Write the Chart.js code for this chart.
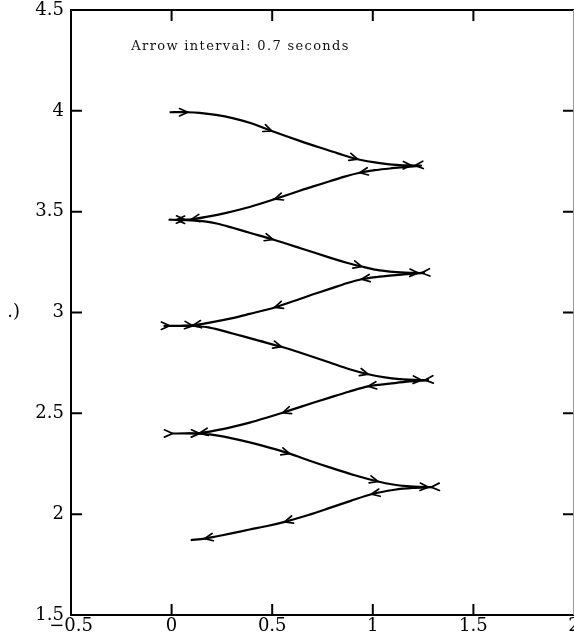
<!DOCTYPE html>
<html>
<head>
<meta charset="utf-8">
<script src="https://cdn.jsdelivr.net/npm/chart.js@4.4.1/dist/chart.umd.min.js"></script>
<style>
  html, body { margin: 0; padding: 0; background: #fff; overflow: hidden; }
  canvas { display: block; }
</style>
</head>
<body>
<canvas id="trajChart" width="574" height="641"></canvas>
<script>
// trajectory (data units)
const pathX = [
  -0.010, 0.080, 0.139, 0.220, 0.303, 0.400, 0.498, 0.637, 0.736, 0.830, 0.925, 1.035, 1.134, 1.209, 1.239,
  1.159, 1.085, 1.010, 0.935, 0.860, 0.786, 0.700, 0.637, 0.512, 0.388, 0.272, 0.173, 0.098, 0.040, -0.010,
  0.100, 0.164, 0.230, 0.303, 0.400, 0.504, 0.637, 0.786, 0.870, 0.945, 1.020, 1.085, 1.160, 1.225, 1.254,
  1.184, 1.100, 1.020, 0.944, 0.870, 0.786, 0.700, 0.637, 0.512, 0.388, 0.303, 0.189, 0.104, 0.040, -0.035,
  0.104, 0.189, 0.303, 0.420, 0.546, 0.637, 0.786, 0.880, 0.977, 1.060, 1.134, 1.242, 1.274,
  1.184, 1.109, 0.977, 0.880, 0.786, 0.637, 0.552, 0.471, 0.388, 0.303, 0.214, 0.139, 0.070, 0.005,
  0.139, 0.239, 0.388, 0.490, 0.587, 0.690, 0.786, 0.910, 1.026, 1.100, 1.169, 1.276, 1.294,
  1.199, 1.109, 0.993, 0.890, 0.786, 0.680, 0.562, 0.470, 0.388, 0.303, 0.214, 0.164, 0.095
];
const pathY = [
  3.993, 3.993, 3.990, 3.980, 3.964, 3.937, 3.900, 3.851, 3.818, 3.788, 3.760, 3.741, 3.731, 3.729, 3.728,
  3.722, 3.714, 3.706, 3.693, 3.674, 3.651, 3.624, 3.604, 3.562, 3.523, 3.494, 3.474, 3.462, 3.460, 3.460,
  3.457, 3.452, 3.440, 3.420, 3.392, 3.362, 3.320, 3.272, 3.247, 3.228, 3.211, 3.203, 3.198, 3.196, 3.196,
  3.191, 3.184, 3.176, 3.165, 3.145, 3.117, 3.089, 3.067, 3.025, 2.993, 2.972, 2.950, 2.937, 2.934, 2.934,
  2.933, 2.925, 2.896, 2.864, 2.830, 2.802, 2.752, 2.720, 2.694, 2.678, 2.670, 2.665, 2.665,
  2.658, 2.650, 2.634, 2.607, 2.578, 2.531, 2.503, 2.478, 2.454, 2.433, 2.414, 2.402, 2.400, 2.400,
  2.399, 2.388, 2.356, 2.329, 2.300, 2.264, 2.232, 2.193, 2.162, 2.147, 2.139, 2.134, 2.134,
  2.130, 2.121, 2.099, 2.066, 2.031, 1.996, 1.962, 1.940, 1.924, 1.906, 1.888, 1.879, 1.871
];

// arrowheads, one every 0.7 s: tip position and heading (+1 right, -1 left)
const arrowX = [
  0.080, 0.498, 0.925, 1.192, 1.209, 0.935, 0.512, 0.098, 0.024,
  0.065, 0.504, 0.945, 1.225, 1.242, 0.944, 0.512, 0.106,
  -0.010, 0.106, 0.546, 0.977, 1.242, 1.259, 0.977, 0.552, 0.139,
  0.005, 0.139, 0.587, 1.026, 1.276, 1.290, 0.993, 0.562, 0.164
];
const arrowY = [
  3.993, 3.900, 3.760, 3.729, 3.729, 3.693, 3.562, 3.462, 3.460,
  3.460, 3.362, 3.228, 3.196, 3.196, 3.165, 3.025, 2.936,
  2.934, 2.934, 2.830, 2.694, 2.665, 2.665, 2.634, 2.503, 2.402,
  2.400, 2.400, 2.300, 2.162, 2.134, 2.134, 2.099, 1.962, 1.879
];
const arrowDir = [
  1, 1, 1, 1, -1, -1, -1, -1, -1,
  1, 1, 1, 1, -1, -1, -1, -1,
  1, 1, 1, 1, 1, -1, -1, -1, -1,
  1, 1, 1, 1, 1, -1, -1, -1, -1
];

const xTicks = [-0.5, 0, 0.5, 1, 1.5, 2];
const xTickLabels = ['\u22120.5', '0', '0.5', '1', '1.5', '2'];
const yTicks = [1.5, 2, 2.5, 3, 3.5, 4, 4.5];
const yTickLabels = ['1.5', '2', '2.5', '3', '3.5', '4', '4.5'];

const noteText = 'Arrow interval: 0.7 seconds';
const yTitle = '.)';

const points = pathX.map((x, i) => ({ x: x, y: pathY[i] }));
const tickFont = { family: '"DejaVu Serif", serif', size: 18 };

// arrowheads along the path, open "V" like the original
const arrowheads = {
  id: 'arrowheads',
  afterDatasetsDraw(chart) {
    const { ctx, scales: { x, y } } = chart;
    const px = pathX.map(v => x.getPixelForValue(v));
    const py = pathY.map(v => y.getPixelForValue(v));
    ctx.save();
    ctx.strokeStyle = '#000';
    ctx.lineWidth = 1.7;
    ctx.lineCap = 'round';
    ctx.lineJoin = 'miter';
    arrowX.forEach((ax, k) => {
      const tx = x.getPixelForValue(ax);
      const ty = y.getPixelForValue(arrowY[k]);
      // local heading: nearest path segment that runs the same way
      let best = Infinity, ang = arrowDir[k] > 0 ? 0 : Math.PI;
      for (let i = 0; i < px.length - 1; i++) {
        const dx = px[i + 1] - px[i], dy = py[i + 1] - py[i];
        if (Math.sign(dx) !== arrowDir[k]) continue;
        const len2 = dx * dx + dy * dy;
        let t = ((tx - px[i]) * dx + (ty - py[i]) * dy) / len2;
        t = Math.max(0, Math.min(1, t));
        const d = Math.hypot(px[i] + t * dx - tx, py[i] + t * dy - ty);
        if (d < best) { best = d; ang = Math.atan2(dy, dx); }
      }
      const L = 9, spread = 0.42;
      ctx.beginPath();
      ctx.moveTo(tx - L * Math.cos(ang - spread), ty - L * Math.sin(ang - spread));
      ctx.lineTo(tx, ty);
      ctx.lineTo(tx - L * Math.cos(ang + spread), ty - L * Math.sin(ang + spread));
      ctx.stroke();
    });
    ctx.restore();
  }
};

// boxed axes with inward ticks, note and clipped y title
const frame = {
  id: 'frame',
  afterDraw(chart) {
    const { ctx, chartArea: a, scales: { x, y } } = chart;
    const tl = 11;
    ctx.save();
    ctx.strokeStyle = '#000';
    ctx.lineWidth = 2;
    ctx.beginPath();
    ctx.moveTo(a.left, a.top); ctx.lineTo(a.right + 1, a.top);
    ctx.moveTo(a.left, a.top - 1); ctx.lineTo(a.left, a.bottom + 1);
    ctx.moveTo(a.left, a.bottom); ctx.lineTo(a.right + 1, a.bottom);
    xTicks.forEach(v => {
      const p = x.getPixelForValue(v);
      ctx.moveTo(p, a.bottom); ctx.lineTo(p, a.bottom - tl);
      ctx.moveTo(p, a.top); ctx.lineTo(p, a.top + tl);
    });
    yTicks.forEach(v => {
      const p = y.getPixelForValue(v);
      ctx.moveTo(a.left, p); ctx.lineTo(a.left + tl, p);
      ctx.moveTo(a.right, p); ctx.lineTo(a.right - tl, p);
    });
    ctx.stroke();
    // right spine sits on the page edge
    ctx.strokeStyle = '#999';
    ctx.lineWidth = 1;
    ctx.beginPath();
    ctx.moveTo(a.right - 0.5, a.top); ctx.lineTo(a.right - 0.5, a.bottom);
    ctx.stroke();

    // note
    ctx.fillStyle = '#111';
    ctx.font = '13px "DejaVu Serif", serif';
    ctx.textBaseline = 'alphabetic';
    const w0 = ctx.measureText(noteText).width;
    const target = 217;
    if ('letterSpacing' in ctx) {
      ctx.letterSpacing = ((target - w0) / (noteText.length - 1)).toFixed(2) + 'px';
    }
    ctx.fillText(noteText, x.getPixelForValue(-0.2), y.getPixelForValue(4.3));
    if ('letterSpacing' in ctx) ctx.letterSpacing = '0px';

    // y title, mostly cut off on the left
    ctx.fillStyle = '#000';
    ctx.font = '18px "DejaVu Serif", serif';
    ctx.textAlign = 'right';
    ctx.textBaseline = 'middle';
    ctx.fillText(yTitle, 20, y.getPixelForValue(3));
    ctx.restore();
  }
};

new Chart(document.getElementById('trajChart'), {
  type: 'scatter',
  data: {
    datasets: [{
      data: points,
      showLine: true,
      borderColor: '#000',
      borderWidth: 2.2,
      pointRadius: 0,
      tension: 0.3,
      fill: false
    }]
  },
  options: {
    responsive: false,
    animation: false,
    devicePixelRatio: 1,
    layout: { padding: { top: 10, right: 0, left: 0, bottom: 0 } },
    plugins: { legend: { display: false }, tooltip: { enabled: false } },
    scales: {
      x: {
        type: 'linear',
        position: 'bottom',
        min: -0.5,
        max: 2,
        grid: { display: false, drawTicks: false },
        border: { display: false },
        afterBuildTicks: s => { s.ticks = xTicks.map(v => ({ value: v })); },
        afterFit: s => { s.height = 26; s.paddingLeft = 0; s.paddingRight = 0; },
        ticks: {
          autoSkip: false,
          maxRotation: 0,
          padding: 1,
          color: '#000',
          font: tickFont,
          callback: (v, i) => xTickLabels[i]
        }
      },
      y: {
        type: 'linear',
        position: 'left',
        min: 1.5,
        max: 4.5,
        grid: { display: false, drawTicks: false },
        border: { display: false },
        afterBuildTicks: s => { s.ticks = yTicks.map(v => ({ value: v })); },
        afterFit: s => { s.width = 71; s.paddingTop = 0; s.paddingBottom = 0; },
        ticks: {
          autoSkip: false,
          padding: 7,
          color: '#000',
          font: tickFont,
          callback: (v, i) => yTickLabels[i]
        }
      }
    }
  },
  plugins: [arrowheads, frame]
});
</script>
</body>
</html>
